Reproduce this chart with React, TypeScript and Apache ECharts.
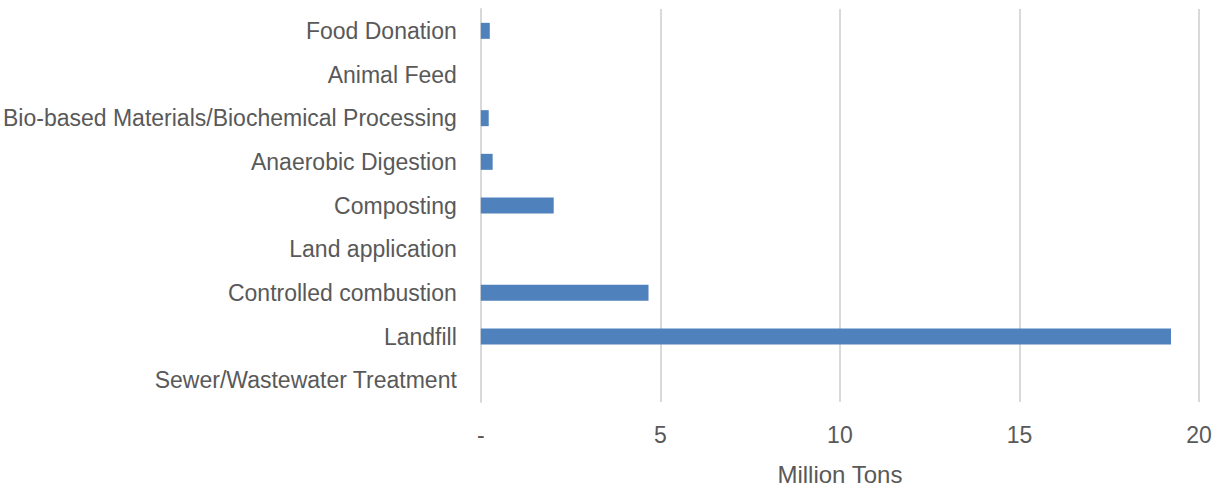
import React, { useEffect, useRef } from "react";
import * as echarts from "echarts";

const categories = [
  "Sewer/Wastewater Treatment",
  "Landfill",
  "Controlled combustion",
  "Land application",
  "Composting",
  "Anaerobic Digestion",
  "Bio-based Materials/Biochemical Processing",
  "Animal Feed",
  "Food Donation",
];
const values = [0, 19.22, 4.67, 0, 2.03, 0.33, 0.22, 0, 0.25];
const xTicks = { min: 0, max: 20, interval: 5 };
const axisTitle = "Million Tons";

const FONT = "'Liberation Sans', Arial, sans-serif";
const TXT = "#595959";

export default function App() {
  const ref = useRef<HTMLDivElement>(null);
  useEffect(() => {
    const chart = echarts.init(ref.current!, null, { renderer: "svg" });
    chart.setOption({
      animation: false,
      backgroundColor: "#ffffff",
      grid: { left: 480, right: 26, top: 9, bottom: 87, containLabel: false },
      xAxis: {
        type: "value",
        min: xTicks.min,
        max: xTicks.max,
        interval: xTicks.interval,
        name: axisTitle,
        nameLocation: "middle",
        nameGap: 60,
        nameTextStyle: { color: TXT, fontSize: 24, fontFamily: FONT },
        axisLine: { show: false },
        axisTick: { show: false },
        axisLabel: {
          color: TXT,
          fontSize: 23,
          fontFamily: FONT,
          margin: 21,
          formatter: (v: number) => (v === 0 ? "-" : String(v)),
        },
        splitLine: { show: true, lineStyle: { color: "#d9d9d9", width: 2 } },
      },
      yAxis: {
        type: "category",
        data: categories,
        axisLine: { show: true, lineStyle: { color: "#d9d9d9", width: 2 } },
        axisTick: { show: false },
        axisLabel: { color: TXT, fontSize: 23, fontFamily: FONT, margin: 24 },
      },
      series: [
        {
          type: "bar",
          data: values,
          barWidth: 16,
          itemStyle: { color: "#4f81bd" },
        },
      ],
    });
    return () => chart.dispose();
  }, []);
  return (
    <div
      ref={ref}
      style={{ position: "fixed", left: 0, top: 0, width: 1225, height: 491 }}
    />
  );
}
